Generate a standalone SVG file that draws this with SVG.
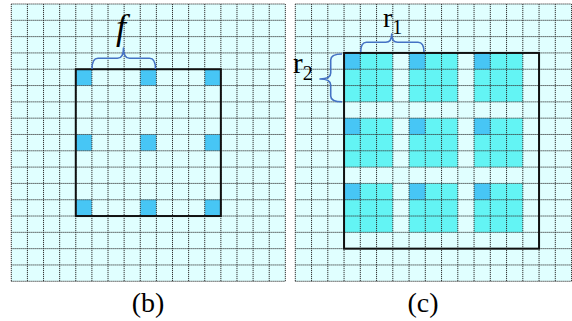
<svg xmlns="http://www.w3.org/2000/svg" width="572" height="321" viewBox="0 0 572 321">
<style>
.bg{fill:#E0FFFF}
.grid{fill:none;stroke:#333;stroke-width:1;stroke-dasharray:1.2 0.8}
.dot{fill:#47C6F5}
.blk{fill:#63F4F4}
.sq{fill:none;stroke:#111;stroke-width:2}
.brace{fill:none;stroke:#4472C4;stroke-width:1.6;stroke-linejoin:round}
</style>
<rect width="572" height="321" fill="#fff"/>
<g id="panel-b">
<rect class="bg" x="11.3" y="4" width="274.04" height="277.27"/>
<g id="dots-b">
<rect class="dot" x="75.78" y="69.24" width="16.12" height="16.31"/>
<rect class="dot" x="140.26" y="69.24" width="16.12" height="16.31"/>
<rect class="dot" x="204.74" y="69.24" width="16.12" height="16.31"/>
<rect class="dot" x="75.78" y="134.48" width="16.12" height="16.31"/>
<rect class="dot" x="140.26" y="134.48" width="16.12" height="16.31"/>
<rect class="dot" x="204.74" y="134.48" width="16.12" height="16.31"/>
<rect class="dot" x="75.78" y="199.72" width="16.12" height="16.31"/>
<rect class="dot" x="140.26" y="199.72" width="16.12" height="16.31"/>
<rect class="dot" x="204.74" y="199.72" width="16.12" height="16.31"/>
</g>
<path class="grid" d="M11.3,4V281.27M27.42,4V281.27M43.54,4V281.27M59.66,4V281.27M75.78,4V281.27M91.9,4V281.27M108.02,4V281.27M124.14,4V281.27M140.26,4V281.27M156.38,4V281.27M172.5,4V281.27M188.62,4V281.27M204.74,4V281.27M220.86,4V281.27M236.98,4V281.27M253.1,4V281.27M269.22,4V281.27M285.34,4V281.27
M11.3,4H285.34M11.3,20.31H285.34M11.3,36.62H285.34M11.3,52.93H285.34M11.3,69.24H285.34M11.3,85.55H285.34M11.3,101.86H285.34M11.3,118.17H285.34M11.3,134.48H285.34M11.3,150.79H285.34M11.3,167.1H285.34M11.3,183.41H285.34M11.3,199.72H285.34M11.3,216.03H285.34M11.3,232.34H285.34M11.3,248.65H285.34M11.3,264.96H285.34M11.3,281.27H285.34"/>
<rect class="sq" x="75.78" y="69.24" width="145.08" height="146.79"/>
<path class="brace" d="M92,69 Q92,58.3 98,58.3 H117.5 Q123.5,58.3 123.5,48 Q123.5,58.3 129.5,58.3 H149.5 Q155.5,58.3 155.5,69"/>
<text x="121" y="39" font-family="'Liberation Serif','DejaVu Serif',serif" font-size="36" font-style="italic" text-anchor="middle">f</text>
<text x="148" y="312" font-family="'Liberation Serif','DejaVu Serif',serif" font-size="28" text-anchor="middle">(b)</text>
</g>
<g id="panel-c">
<rect class="bg" x="295.3" y="4" width="276.25" height="277.27"/>
<g id="blocks-c">
<rect class="blk" x="344.05" y="52.93" width="48.75" height="48.93"/>
<rect class="blk" x="409.05" y="52.93" width="48.75" height="48.93"/>
<rect class="blk" x="474.05" y="52.93" width="48.75" height="48.93"/>
<rect class="blk" x="344.05" y="118.17" width="48.75" height="48.93"/>
<rect class="blk" x="409.05" y="118.17" width="48.75" height="48.93"/>
<rect class="blk" x="474.05" y="118.17" width="48.75" height="48.93"/>
<rect class="blk" x="344.05" y="183.41" width="48.75" height="48.93"/>
<rect class="blk" x="409.05" y="183.41" width="48.75" height="48.93"/>
<rect class="blk" x="474.05" y="183.41" width="48.75" height="48.93"/>
<rect class="dot" x="344.05" y="52.93" width="16.25" height="16.31"/>
<rect class="dot" x="409.05" y="52.93" width="16.25" height="16.31"/>
<rect class="dot" x="474.05" y="52.93" width="16.25" height="16.31"/>
<rect class="dot" x="344.05" y="118.17" width="16.25" height="16.31"/>
<rect class="dot" x="409.05" y="118.17" width="16.25" height="16.31"/>
<rect class="dot" x="474.05" y="118.17" width="16.25" height="16.31"/>
<rect class="dot" x="344.05" y="183.41" width="16.25" height="16.31"/>
<rect class="dot" x="409.05" y="183.41" width="16.25" height="16.31"/>
<rect class="dot" x="474.05" y="183.41" width="16.25" height="16.31"/>
</g>
<path class="grid" d="M295.3,4V281.27M311.55,4V281.27M327.8,4V281.27M344.05,4V281.27M360.3,4V281.27M376.55,4V281.27M392.8,4V281.27M409.05,4V281.27M425.3,4V281.27M441.55,4V281.27M457.8,4V281.27M474.05,4V281.27M490.3,4V281.27M506.55,4V281.27M522.8,4V281.27M539.05,4V281.27M555.3,4V281.27M571.55,4V281.27
M295.3,4H571.55M295.3,20.31H571.55M295.3,36.62H571.55M295.3,52.93H571.55M295.3,69.24H571.55M295.3,85.55H571.55M295.3,101.86H571.55M295.3,118.17H571.55M295.3,134.48H571.55M295.3,150.79H571.55M295.3,167.1H571.55M295.3,183.41H571.55M295.3,199.72H571.55M295.3,216.03H571.55M295.3,232.34H571.55M295.3,248.65H571.55M295.3,264.96H571.55M295.3,281.27H571.55"/>
<rect class="sq" x="344.05" y="52.93" width="195" height="195.72"/>
<path class="brace" d="M360.7,52 Q360.7,42.3 366.5,42.3 H385.7 Q391.7,42.3 391.7,34 Q391.7,42.3 397.7,42.3 H418 Q424,42.3 424,52"/>
<path class="brace" d="M342,54 Q330.7,54 330.7,60 V73 Q330.7,79 320,79 Q330.7,79 330.7,85 V96 Q330.7,101.8 342,101.8"/>
<text x="383" y="27" font-family="'Liberation Serif','DejaVu Serif',serif" font-size="28">r<tspan font-size="20" dy="7">1</tspan></text>
<text x="293" y="72.5" font-family="'Liberation Serif','DejaVu Serif',serif" font-size="29">r<tspan font-size="20" dy="7.5">2</tspan></text>
<text x="423" y="312" font-family="'Liberation Serif','DejaVu Serif',serif" font-size="28" text-anchor="middle">(c)</text>
</g>
</svg>
